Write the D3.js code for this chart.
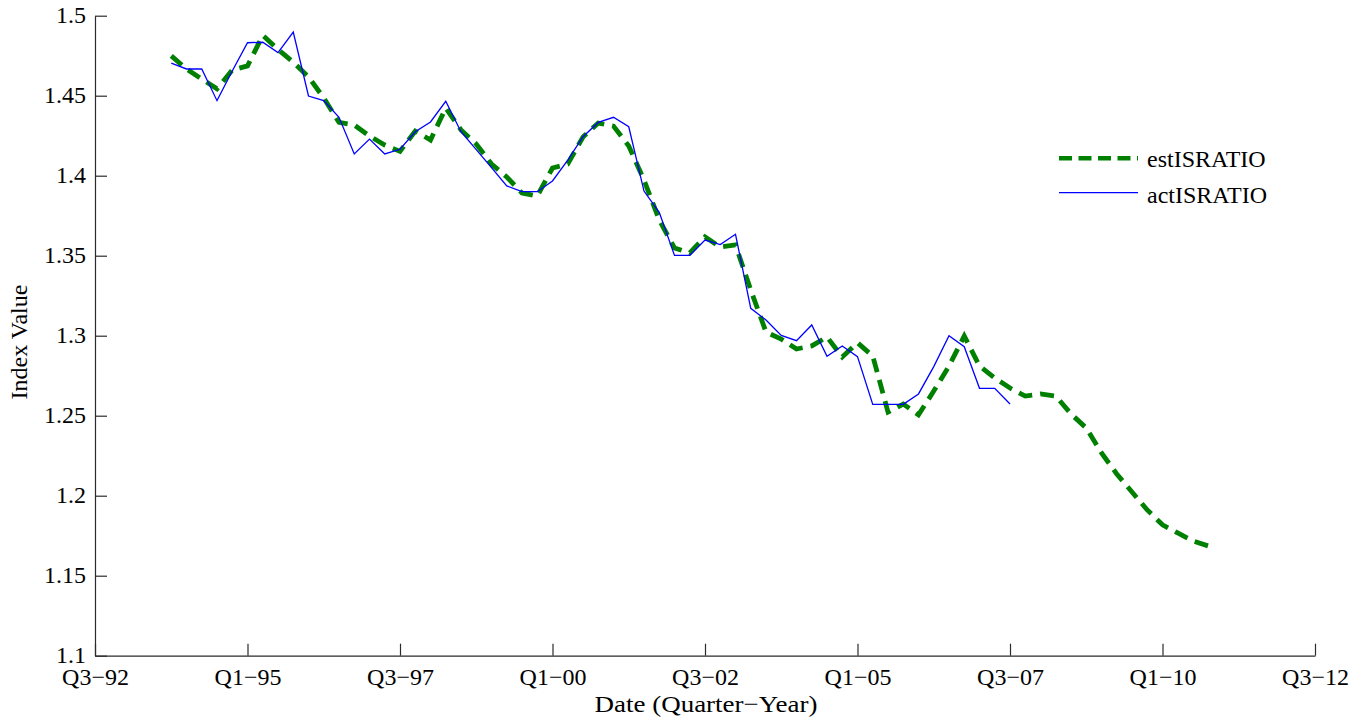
<!DOCTYPE html>
<html>
<head>
<meta charset="utf-8">
<script src="https://cdn.jsdelivr.net/npm/d3@7"></script>
<style>
  html, body { margin: 0; padding: 0; background: #ffffff; }
  svg { display: block; }
  text { font-family: "Liberation Serif", "Times New Roman", serif; fill: #000; }
</style>
</head>
<body>
<svg id="chart" width="1364" height="722"></svg>
<script>
// Quarter categories along the x axis (Q3-92 through Q3-12)
const yearLabels = ["92","93","94","95","96","97","98","99","00","01","02","03","04","05","06","07","08","09","10","11","12"];
const quarterNames = ["Q1","Q2","Q3","Q4"];
const quarters = yearLabels.flatMap(y => quarterNames.map(q => q + "\u2212" + y)).slice(2, 83);

const xTickLabels = ["Q3\u221292","Q1\u221295","Q3\u221297","Q1\u221200","Q3\u221202","Q1\u221205","Q3\u221207","Q1\u221210","Q3\u221212"];
const yTickValues = [1.1, 1.15, 1.2, 1.25, 1.3, 1.35, 1.4, 1.45, 1.5];

// Estimated inventory/sales ratio, quarterly from Q4-93 to Q4-10
const estStart = "Q4\u221293";
const estISRATIO = [
  1.4749, 1.4667, 1.4604, 1.4543, 1.4660, 1.4686, 1.4877, 1.4789, 1.4710, 1.4617,
  1.4486, 1.4333, 1.4317, 1.4248, 1.4192, 1.4152, 1.4279, 1.4223, 1.4423, 1.4286,
  1.4198, 1.4073, 1.3992, 1.3892, 1.3873, 1.4048, 1.4073, 1.4242, 1.4329, 1.4310,
  1.4186, 1.3973, 1.3723, 1.3548, 1.3517, 1.3618, 1.3554, 1.3567, 1.3286, 1.3023,
  1.2979, 1.2917, 1.2936, 1.2992, 1.2867, 1.2956, 1.2873, 1.2523, 1.2573, 1.2505,
  1.2654, 1.2810, 1.2998, 1.2811, 1.2736, 1.2673, 1.2623, 1.2636, 1.2623, 1.2511,
  1.2423, 1.2267, 1.2136, 1.2023, 1.1911, 1.1818, 1.1767, 1.1717, 1.1686
];

// Actual inventory/sales ratio, quarterly from Q4-93 to Q3-07
const actStart = "Q4\u221293";
const actISRATIO = [
  1.4703, 1.4667, 1.4667, 1.4469, 1.4654, 1.4831, 1.4834, 1.4769, 1.4898, 1.4498,
  1.4469, 1.4365, 1.4136, 1.4229, 1.4136, 1.4165, 1.4275, 1.4336, 1.4465, 1.4275,
  1.4163, 1.4050, 1.3936, 1.3900, 1.3900, 1.3967, 1.4098, 1.4244, 1.4333, 1.4365,
  1.4306, 1.3904, 1.3771, 1.3502, 1.3502, 1.3598, 1.3569, 1.3634, 1.3171, 1.3098,
  1.3002, 1.2969, 1.3067, 1.2871, 1.2936, 1.2869, 1.2571, 1.2571, 1.2571, 1.2636,
  1.2807, 1.3000, 1.2931, 1.2671, 1.2671, 1.2573
];

const W = 1364, H = 722;
const margin = { left: 95, right: 49, top: 15.7, bottom: 66.3 };
const svg = d3.select("#chart");
svg.append("rect").attr("width", W).attr("height", H).attr("fill", "#fff");

const x = d3.scalePoint().domain(quarters).range([margin.left, W - margin.right]);
const y = d3.scaleLinear().domain([1.1, 1.5]).range([H - margin.bottom, margin.top]);

function series(start, values) {
  const i0 = quarters.indexOf(start);
  return values.map((v, i) => ({ q: quarters[i0 + i], v }));
}

const axisColor = "#2b2b2b";
const tickLen = 12;

// Bottom axis with inward ticks
const xAxis = svg.append("g")
  .attr("transform", `translate(0,${H - margin.bottom})`)
  .call(d3.axisBottom(x).tickValues(xTickLabels).tickSizeInner(-tickLen).tickSizeOuter(0).tickPadding(0));
xAxis.select(".domain").attr("stroke", axisColor).attr("stroke-width", 1.2);
xAxis.selectAll(".tick line").attr("stroke", axisColor).attr("stroke-width", 1.2);
xAxis.selectAll(".tick text")
  .attr("y", 29.5).attr("dy", null)
  .style("font-family", "'Liberation Serif', serif").style("font-size", "24px").attr("fill", "#000");

// Left axis with inward ticks
const yAxis = svg.append("g")
  .attr("transform", `translate(${margin.left},0)`)
  .call(d3.axisLeft(y).tickValues(yTickValues).tickFormat(d => String(+d.toFixed(2)))
    .tickSizeInner(-tickLen).tickSizeOuter(0).tickPadding(0));
yAxis.select(".domain").attr("stroke", axisColor).attr("stroke-width", 1.2);
yAxis.selectAll(".tick line").attr("stroke", axisColor).attr("stroke-width", 1.2);
yAxis.selectAll(".tick text")
  .attr("x", -9).attr("dy", "7")
  .style("font-family", "'Liberation Serif', serif").style("font-size", "24px").attr("fill", "#000");

// Axis titles
svg.append("text")
  .attr("x", (margin.left + W - margin.right) / 2 + 1).attr("y", 712)
  .attr("text-anchor", "middle").style("font-size", "24px")
  .attr("textLength", 223).attr("lengthAdjust", "spacingAndGlyphs")
  .text("Date (Quarter\u2212Year)");
svg.append("text")
  .attr("transform", "translate(27,342) rotate(-90)")
  .attr("text-anchor", "middle").style("font-size", "24px")
  .text("Index Value");

const line = d3.line().x(d => x(d.q)).y(d => y(d.v));

// Estimated series: thick green dashes
svg.append("path")
  .datum(series(estStart, estISRATIO))
  .attr("d", line)
  .attr("fill", "none").attr("stroke", "#008000")
  .attr("stroke-width", 4.8).attr("stroke-dasharray", "14,8");

// Actual series: thin blue line
svg.append("path")
  .datum(series(actStart, actISRATIO))
  .attr("d", line)
  .attr("fill", "none").attr("stroke", "#0000ff")
  .attr("stroke-width", 1.3).attr("stroke-linejoin", "miter");

// Legend
const legend = svg.append("g");
legend.append("line")
  .attr("x1", 1059).attr("x2", 1138).attr("y1", 158.3).attr("y2", 158.3)
  .attr("stroke", "#008000").attr("stroke-width", 4.5).attr("stroke-dasharray", "13,6.5");
legend.append("text").attr("x", 1147).attr("y", 166.7).style("font-size", "24px").text("estISRATIO");
legend.append("line")
  .attr("x1", 1059).attr("x2", 1138).attr("y1", 192.7).attr("y2", 192.7)
  .attr("stroke", "#0000ff").attr("stroke-width", 1.3);
legend.append("text").attr("x", 1147).attr("y", 203.3).style("font-size", "24px").text("actISRATIO");
</script>
</body>
</html>
